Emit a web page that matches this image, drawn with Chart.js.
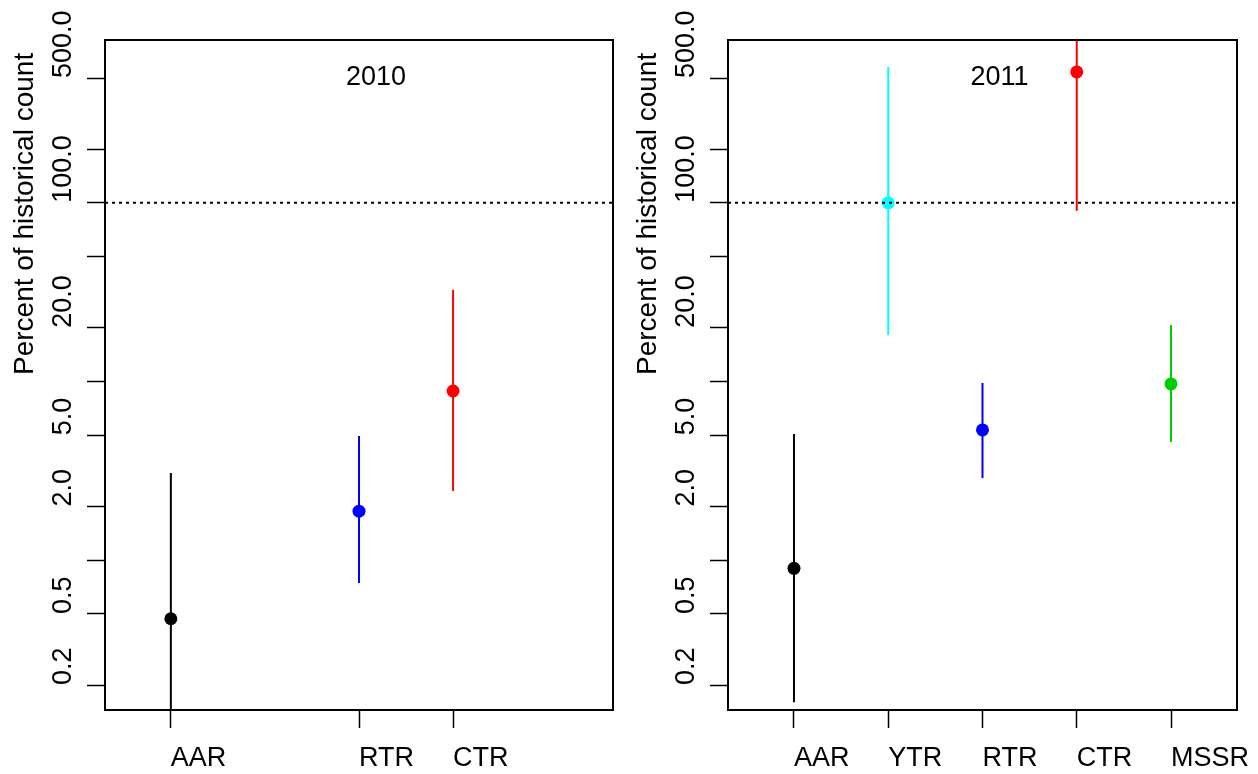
<!DOCTYPE html>
<html>
<head>
<meta charset="utf-8">
<script src="https://cdn.jsdelivr.net/npm/chart.js@4.4.1/dist/chart.umd.min.js"></script>
<style>
  html, body { margin: 0; padding: 0; background: #fff; overflow: hidden; }
  .wrap { position: relative; width: 1258px; height: 774px; overflow: hidden; }
  #left { position: absolute; left: 0; top: 0; }
  #right { position: absolute; left: 623px; top: 0; }
</style>
</head>
<body>
<div class="wrap">
  <canvas id="left" width="623" height="774"></canvas>
  <canvas id="right" width="700" height="774"></canvas>
</div>
<script>
const categories = ['AAR', 'YTR', 'RTR', 'CTR', 'MSSR'];
const seriesColors = ['#000000', '#00FFFF', '#0000FF', '#FF0000', '#00CD00'];

const yTickValues = [0.2, 0.5, 1, 2, 5, 10, 20, 50, 100, 200, 500];
const yTickLabels = ['0.2', '0.5', '', '2.0', '5.0', '', '20.0', '', '100.0', '', '500.0'];
const referenceLevel = 100;

// 2010 (null = not surveyed that year)
const est2010 = [0.47, null, 1.88, 8.85, null];
const low2010 = [0.05, null, 0.745, 2.44, null];
const high2010 = [3.08, null, 4.96, 32.6, null];

// 2011
const est2011 = [0.90, 100, 5.36, 541, 9.69];
const low2011 = [0.16, 18.2, 2.88, 90.2, 4.59];
const high2011 = [5.08, 577, 9.82, 2000, 20.7];

const FONT = '"Liberation Sans", Arial, sans-serif';
Chart.defaults.font.family = FONT;
Chart.defaults.font.size = 27;
Chart.defaults.color = '#000';

// box around the plot, y title and the year label
const panelDecor = {
  id: 'panelDecor',
  afterDraw(chart, args, opts) {
    const {ctx, chartArea, scales} = chart;
    ctx.save();
    ctx.strokeStyle = '#000';
    ctx.lineWidth = 2;
    ctx.strokeRect(chartArea.left, chartArea.top, chartArea.right - chartArea.left, chartArea.bottom - chartArea.top);

    ctx.fillStyle = '#000';
    ctx.font = '27px ' + FONT;
    ctx.textBaseline = 'middle';
    ctx.textAlign = 'center';
    ctx.fillText(opts.year, scales.x.getPixelForValue(opts.yearX), scales.y.getPixelForValue(500));

    ctx.font = '28px ' + FONT;
    ctx.translate(25, chartArea.top + (chartArea.bottom - chartArea.top) / 2);
    ctx.rotate(-Math.PI / 2);
    ctx.textAlign = 'left';
    ctx.fillText('Percent of historical count', 0, 0);
    ctx.restore();
  },
};

const makePanel = (canvasId, year, est, low, high, padRight) => {
  const shown = categories.map((c, i) => i).filter(i => est[i] !== null);

  const datasets = [{
    data: [{x: 0.3, y: referenceLevel}, {x: 5.7, y: referenceLevel}],
    showLine: true,
    borderColor: '#000',
    borderWidth: 2,
    borderDash: [3, 4],
    pointRadius: 0,
  }];
  shown.forEach(i => {
    datasets.push({
      data: [{x: i + 1, y: low[i]}, {x: i + 1, y: high[i]}],
      showLine: true,
      borderColor: seriesColors[i],
      borderWidth: 2,
      pointRadius: 0,
    });
  });
  datasets.push({
    data: shown.map(i => ({x: i + 1, y: est[i]})),
    backgroundColor: shown.map(i => seriesColors[i]),
    borderWidth: 0,
    pointRadius: 6.5,
  });

  const config = {
    type: 'scatter',
    data: {datasets: datasets},
    options: {
      responsive: false,
      animation: false,
      layout: {padding: {left: 50, top: 40, right: padRight, bottom: 0}},
      plugins: {
        legend: {display: false},
        tooltip: {enabled: false},
        panelDecor: {year: year, yearX: 3.18},
      },
      scales: {
        x: {
          type: 'linear',
          min: 0.3,
          max: 5.7,
          afterBuildTicks: (scale) => {
            scale.ticks = shown.map(i => ({value: i + 1}));
          },
          afterFit: (scale) => { scale.height = 64; },
          ticks: {
            autoSkip: false,
            maxRotation: 0,
            align: 'start',
            padding: 14,
            callback: (v) => categories[v - 1],
          },
          grid: {drawOnChartArea: false, tickLength: 18, tickColor: '#000', tickWidth: 1.5},
          border: {display: false},
        },
        y: {
          type: 'logarithmic',
          min: 0.145,
          max: 816,
          bounds: 'data',
          afterBuildTicks: (scale) => {
            scale.ticks = yTickValues.map(v => ({value: v}));
          },
          afterFit: (scale) => { scale.width = 55; },
          ticks: {
            autoSkip: false,
            minRotation: 90,
            maxRotation: 90,
            crossAlign: 'far',
            align: 'start',
            padding: 0,
            callback: (v, idx) => yTickLabels[idx],
          },
          grid: {drawOnChartArea: false, tickLength: 18, tickColor: '#000', tickWidth: 1.5},
          border: {display: false},
        },
      },
    },
    plugins: [panelDecor],
  };

  new Chart(document.getElementById(canvasId), config);
};

makePanel('left', '2010', est2010, low2010, high2010, 10);
makePanel('right', '2011', est2011, low2011, high2011, 86);
</script>
</body>
</html>
